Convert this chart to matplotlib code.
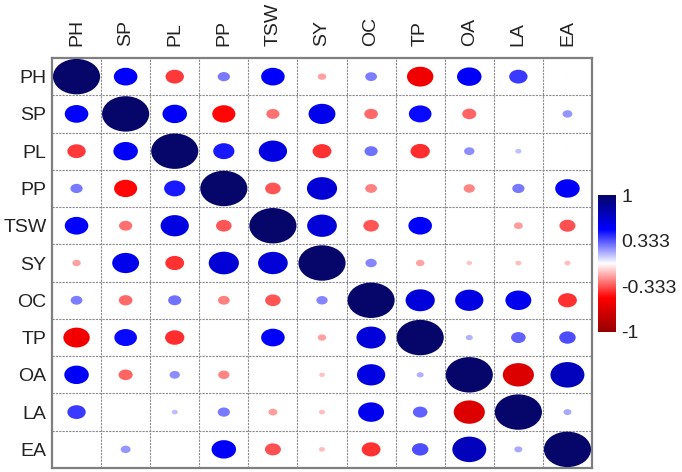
import matplotlib
matplotlib.use("Agg")
import matplotlib.pyplot as plt
import numpy as np
from matplotlib.patches import Ellipse
from matplotlib.colors import LinearSegmentedColormap, Normalize

plt.rcParams["font.family"] = ["Liberation Sans", "DejaVu Sans"]

traits = ["PH", "SP", "PL", "PP", "TSW", "SY", "OC", "TP", "OA", "LA", "EA"]

# upper triangle, row by row
upper = {
    "PH": [0.50, -0.39, 0.26, 0.50, -0.18, 0.25, -0.56, 0.52, 0.39, 0.02],
    "SP": [0.52, -0.49, -0.28, 0.57, -0.29, 0.48, -0.30, 0.01, 0.21],
    "PL": [0.45, 0.60, -0.40, 0.28, -0.41, 0.22, 0.13, 0.02],
    "PP": [-0.33, 0.64, -0.25, 0.01, -0.24, 0.26, 0.52],
    "TSW": [0.63, -0.33, 0.50, 0.02, -0.19, -0.34],
    "SY": [0.24, -0.18, -0.12, -0.13, -0.13],
    "OC": [0.62, 0.60, 0.55, -0.40],
    "TP": [0.15, 0.31, 0.35],
    "OA": [-0.66, 0.72],
    "LA": [0.17],
}

cbar_ticks = [1, 0.333, -0.333, -1]
cbar_labels = ["1", "0.333", "-0.333", "-1"]

n = len(traits)
corr = np.eye(n)
for i, name in enumerate(traits[:-1]):
    for k, v in enumerate(upper[name]):
        j = i + 1 + k
        corr[i, j] = v
        corr[j, i] = v

cmap = LinearSegmentedColormap.from_list(
    "rwb", ["#960000", "#ff0000", "#ffffff", "#0000ff", "#05056a"])
norm = Normalize(-1, 1)

W, H = 682, 472
fig = plt.figure(figsize=(W / 100, H / 100), dpi=100)
ax = fig.add_axes([52 / W, (H - 468) / H, (592 - 52) / W, (468 - 58) / H])
ax.set_xlim(0, n)
ax.set_ylim(n, 0)

for i in range(n):
    for j in range(n):
        r = corr[i, j]
        ax.add_patch(Ellipse((j + 0.5, i + 0.5), abs(r) * 0.96, abs(r) * 0.95,
                             facecolor=cmap(norm(r)), edgecolor="none", zorder=3))

for k in range(1, n):
    ax.axvline(k, color="#8a8a8a", lw=0.8, ls=(0, (2, 1)), zorder=1)
    ax.axhline(k, color="#8a8a8a", lw=0.8, ls=(0, (2, 1)), zorder=1)

for s in ax.spines.values():
    s.set_color("#7f7f7f")
    s.set_linewidth(1.6)

ax.set_xticks(np.arange(n) + 0.5)
ax.set_xticklabels(traits, rotation=90, fontsize=14, color="#222222")
ax.set_yticks(np.arange(n) + 0.5)
ax.set_yticklabels(traits, fontsize=14, color="#222222")
ax.xaxis.tick_top()
ax.tick_params(axis="x", length=0, pad=9)
ax.tick_params(axis="y", length=0, pad=4)

cax = fig.add_axes([598 / W, (H - 332) / H, 18 / W, (332 - 195) / H])
grad = np.linspace(1, -1, 256).reshape(-1, 1)
cax.imshow(grad, aspect="auto", cmap=cmap, norm=norm, extent=[0, 1, -1, 1])
cax.set_xticks([])
cax.yaxis.tick_right()
cax.set_yticks(cbar_ticks)
cax.set_yticklabels(cbar_labels, fontsize=14, color="#222222")
cax.tick_params(axis="y", length=0, pad=4)
for s in cax.spines.values():
    s.set_visible(False)

fig.savefig("out.png", dpi=100)
